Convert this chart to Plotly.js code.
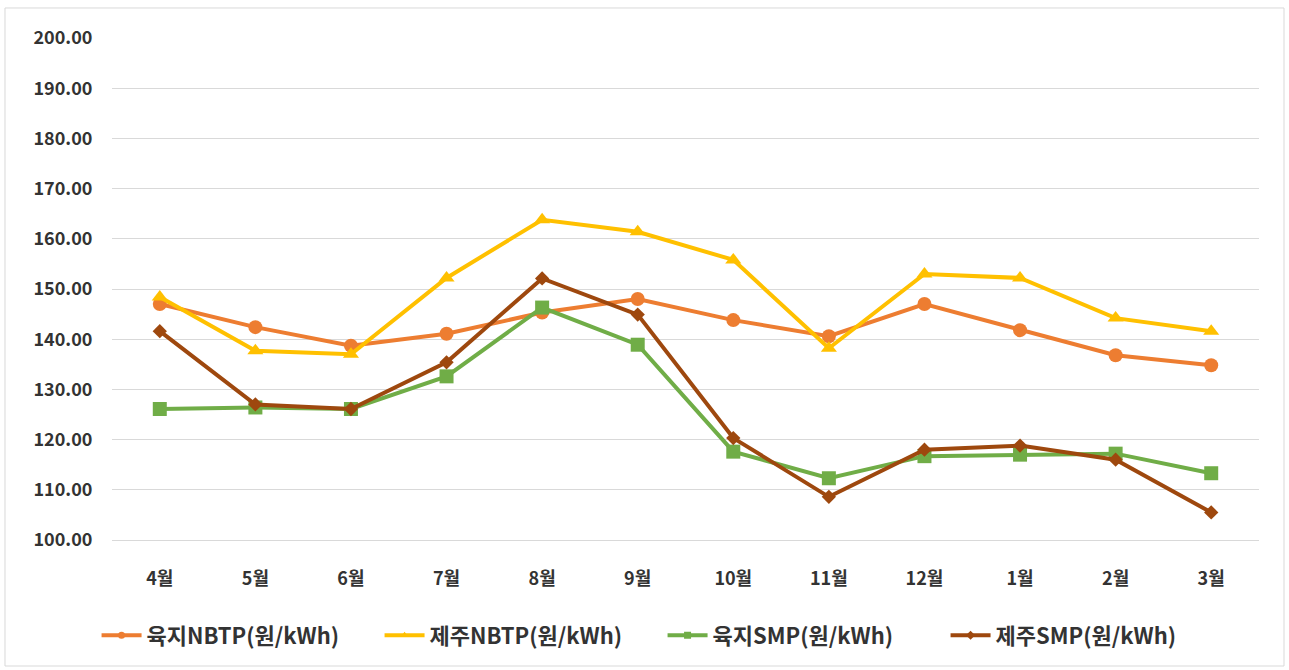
<!DOCTYPE html>
<html>
<head>
<meta charset="utf-8">
<script src="https://cdn.plot.ly/plotly-3.0.1.min.js"></script>
<style>
html,body{margin:0;padding:0;background:#fff;}
#chart{width:1289px;height:670px;}
</style>
</head>
<body>
<div id="chart"></div>
<script>
const months = ['4월','5월','6월','7월','8월','9월','10월','11월','12월','1월','2월','3월'];
const landNBTP = [147.0, 142.4, 138.7, 141.1, 145.3, 148.0, 143.8, 140.6, 147.0, 141.8, 136.8, 134.8];
const jejuNBTP = [148.4, 137.7, 137.0, 152.2, 163.8, 161.4, 155.8, 138.2, 153.0, 152.2, 144.2, 141.6];
const landSMP  = [126.1, 126.4, 126.1, 132.6, 146.3, 138.9, 117.6, 112.3, 116.7, 117.0, 117.2, 113.3];
const jejuSMP  = [141.6, 127.0, 126.1, 135.4, 152.1, 144.9, 120.3, 108.6, 118.0, 118.8, 116.0, 105.5];
const names = ['육지NBTP(원/kWh)','제주NBTP(원/kWh)','육지SMP(원/kWh)','제주SMP(원/kWh)'];
const yTicks = [100,110,120,130,140,150,160,170,180,190,200];

const font = '"Noto Sans CJK KR", "Noto Sans", sans-serif';
const colors = ['#ED7D31','#FFC000','#70AD47','#9E480E'];
const symbols = ['circle','triangle-up','square','diamond'];
const sizes = [14,14,14,11];
const series = [landNBTP, jejuNBTP, landSMP, jejuSMP];

const data = [];
series.forEach((y, i) => {
  data.push({x: months, y: y, name: names[i], type: 'scatter', mode: 'lines+markers',
    showlegend: false, legendgroup: 'g' + i,
    line: {color: colors[i], width: 4}, marker: {color: colors[i], symbol: symbols[i], size: sizes[i]}});
});
// legend entries (smaller markers, as in the reference legend)
series.forEach((y, i) => {
  data.push({x: [null], y: [null], name: names[i], type: 'scatter', mode: 'lines+markers',
    showlegend: true, legendgroup: 'g' + i,
    line: {color: colors[i], width: 4}, marker: {color: colors[i], symbol: symbols[i], size: 7}});
});

const layout = {
  width: 1289, height: 670,
  margin: {l: 112, r: 30, t: 38, b: 130, autoexpand: false},
  paper_bgcolor: '#fff', plot_bgcolor: '#fff',
  font: {family: font, color: '#404040'},
  xaxis: {type: 'category', range: [-0.5, 11.5], showgrid: false, zeroline: false,
    showline: true, linecolor: '#D9D9D9', linewidth: 1,
    ticks: 'outside', ticklen: 22, tickcolor: 'rgba(0,0,0,0)',
    tickfont: {family: font, size: 18, color: '#333', weight: 'bold'}},
  yaxis: {range: [100, 200], tickvals: yTicks, ticktext: yTicks.map(v => v.toFixed(2)),
    showgrid: true, gridcolor: '#D9D9D9', gridwidth: 1, zeroline: false, showline: false,
    ticks: 'outside', ticklen: 15, tickcolor: 'rgba(0,0,0,0)',
    tickfont: {family: font, size: 18, color: '#333', weight: 'bold'}},
  legend: {orientation: 'h', x: 0.48, xanchor: 'center', y: -0.19, yanchor: 'middle',
    font: {family: font, size: 22, color: '#333', weight: 'bold'},
    entrywidth: 228, itemwidth: 40, tracegroupgap: 0},
  shapes: [{type: 'rect', xref: 'paper', yref: 'paper',
    x0: -0.0933, x1: 1.0218, y0: -0.251, y1: 1.0598,
    line: {color: '#D9D9D9', width: 1}, fillcolor: 'rgba(0,0,0,0)', layer: 'below'}]
};
Plotly.newPlot('chart', data, layout, {displayModeBar: false, staticPlot: true});
</script>
</body>
</html>
